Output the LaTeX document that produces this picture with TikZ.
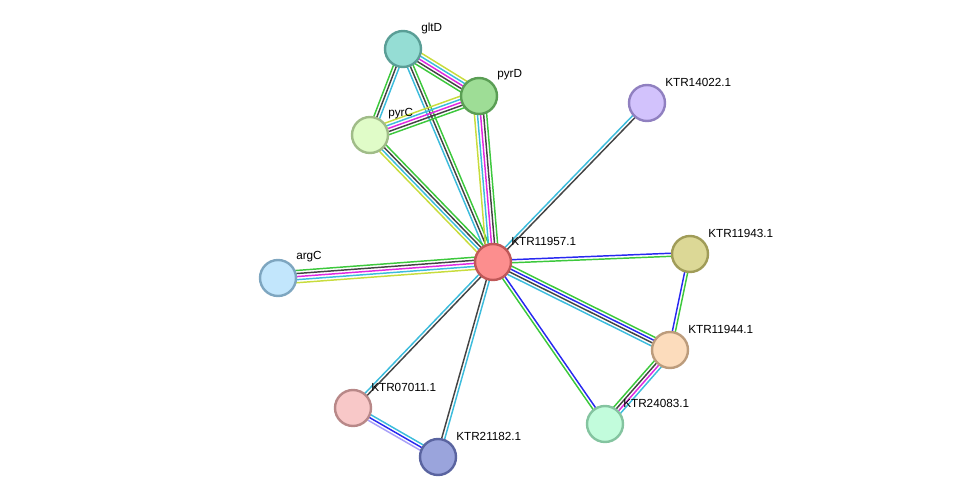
\documentclass[tikz,border=0pt]{standalone}
\usepackage{fontspec}
\setmainfont{Liberation Sans}
\usetikzlibrary{calc,backgrounds}
\definecolor{cGreen}{HTML}{3CC83C}
\definecolor{cYel}{HTML}{C8DC3C}
\definecolor{cBlack}{HTML}{444444}
\definecolor{cCyan}{HTML}{3CBCDC}
\definecolor{cMag}{HTML}{E028E0}
\definecolor{cBlue}{HTML}{2828F0}
\definecolor{cLav}{HTML}{A8A0F8}
\tikzset{
  prot/.style={circle, minimum size=27pt, inner sep=0pt, line width=1.8pt},
  lbl/.style={anchor=west, inner sep=0pt, font=\fontsize{8.8}{10}\selectfont},
  eline/.style={line width=1.1pt}
}
\newcommand\edgeset[4]{%
  \foreach \c [count=\i] in {#4} {%
    \pgfmathsetmacro\o{(\i-(#3+1)/2)*2.3}%
    \draw[eline,\c] ($(#1)!\o pt!90:(#2)$) -- ($(#2)!\o pt!-90:(#1)$);%
  }%
}
\newcommand\prot[6]{%
  \definecolor{fill#1}{HTML}{#4}%
  \definecolor{draw#1}{HTML}{#5}%
  \node[prot, fill=fill#1, draw=draw#1] (#1) at (#2,#3) {};
  \node[lbl] (l#1) at (#2+18,#3-21) {#6};
}
\begin{document}
\begin{tikzpicture}[x=0.75pt,y=-0.75pt]
\useasboundingbox (0,0) rectangle (976,503);
\prot{gltD}{403}{49}{95DDD4}{5A9E96}{gltD}
\prot{pyrD}{479}{96}{9EDD96}{5A9E54}{pyrD}
\prot{pyrC}{370}{135}{E0FCC8}{A0BC88}{pyrC}
\prot{k14022}{647}{103}{D2C2FC}{9080C0}{KTR14022.1}
\prot{k11957}{493}{262}{FC8E8E}{C05858}{KTR11957.1}
\prot{argC}{278}{278}{C2E6FC}{7EA6C0}{argC}
\prot{k11943}{690}{254}{DCD896}{A09C58}{KTR11943.1}
\prot{k11944}{670}{350}{FCDCBC}{BC9C7C}{KTR11944.1}
\prot{k07011}{353}{408}{F8C8C8}{B88888}{KTR07011.1}
\prot{k21182}{438}{457}{9AA4DC}{5A64A0}{KTR21182.1}
\prot{k24083}{605}{424}{C2FCDC}{84C4A0}{KTR24083.1}
\begin{scope}[on background layer]
\edgeset{gltD}{pyrD}{5}{cGreen,cBlack,cMag,cCyan,cYel}
\edgeset{gltD}{pyrC}{3}{cGreen,cBlack,cCyan}
\edgeset{gltD}{k11957}{3}{cCyan,cBlack,cGreen}
\edgeset{pyrD}{pyrC}{5}{cYel,cCyan,cMag,cBlack,cGreen}
\edgeset{pyrD}{k11957}{5}{cYel,cCyan,cMag,cBlack,cGreen}
\edgeset{pyrC}{k11957}{4}{cYel,cCyan,cBlack,cGreen}
\edgeset{k14022}{k11957}{2}{cCyan,cBlack}
\edgeset{argC}{k11957}{5}{cYel,cCyan,cMag,cBlack,cGreen}
\edgeset{k11943}{k11957}{2}{cBlue,cGreen}
\edgeset{k11944}{k11957}{4}{cGreen,cBlue,cBlack,cCyan}
\edgeset{k24083}{k11957}{2}{cBlue,cGreen}
\edgeset{k11943}{k11944}{2}{cBlue,cGreen}
\edgeset{k11944}{k24083}{4}{cGreen,cBlack,cMag,cCyan}
\edgeset{k07011}{k11957}{2}{cBlack,cCyan}
\edgeset{k21182}{k11957}{2}{cCyan,cBlack}
\edgeset{k07011}{k21182}{3}{cLav,cBlue,cCyan}
\end{scope}
\end{tikzpicture}
\end{document}
